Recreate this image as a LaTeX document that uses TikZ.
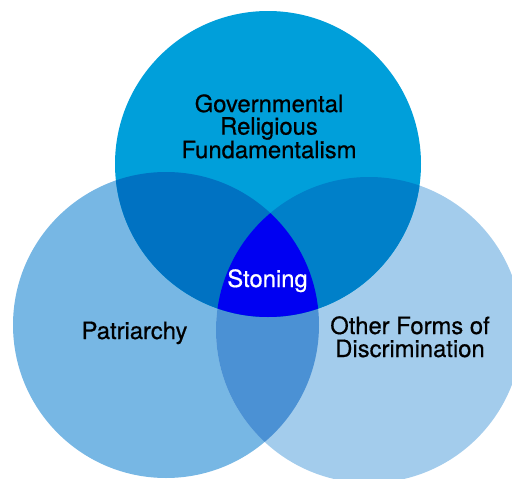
\documentclass[tikz,border=0pt]{standalone}
\usepackage{fontspec}
\setmainfont[FakeBold=0.6]{TeX Gyre Heros}
\definecolor{cTop}{HTML}{009FDA}
\definecolor{cLeft}{HTML}{77B7E4}
\definecolor{cRight}{HTML}{A3CCEC}
\definecolor{cTL}{HTML}{0072C2}
\definecolor{cTR}{HTML}{0080C9}
\definecolor{cLR}{HTML}{4B91D4}
\definecolor{cMid}{HTML}{0000F2}
\begin{document}
\begin{tikzpicture}[x=1pt,y=-1pt,
  lbl/.style={inner sep=0pt,font=\fontsize{23.8}{22.5}\selectfont,align=center,text=black}]
\useasboundingbox (0,0) rectangle (512,479);
\clip (0,0) rectangle (512,479);
\def\T{(268,164) circle[radius=153pt]}
\def\L{(166,325) circle[radius=153pt]}
\def\R{(369,330) circle[radius=153pt]}
\fill[cLeft] \L;
\fill[cRight] \R;
\fill[cTop] \T;
\begin{scope}\clip \L; \fill[cLR] \R; \end{scope}
\begin{scope}\clip \T; \fill[cTL] \L; \end{scope}
\begin{scope}\clip \T; \fill[cTR] \R; \end{scope}
\begin{scope}\clip \T; \clip \L; \fill[cMid] \R; \end{scope}
\node[lbl] (gov) at (269,126.4) {Governmental\\Religious\\Fundamentalism};
\node[lbl,anchor=base,text=white] (ston) at (267.5,287) {Stoning};
\node[lbl,anchor=base] (pat) at (134.5,339) {Patriarchy};
\node[lbl,anchor=base] (oth) at (410,334) {Other Forms of};
\node[lbl,anchor=base] (dis) at (410,357) {Discrimination};
\end{tikzpicture}
\end{document}
